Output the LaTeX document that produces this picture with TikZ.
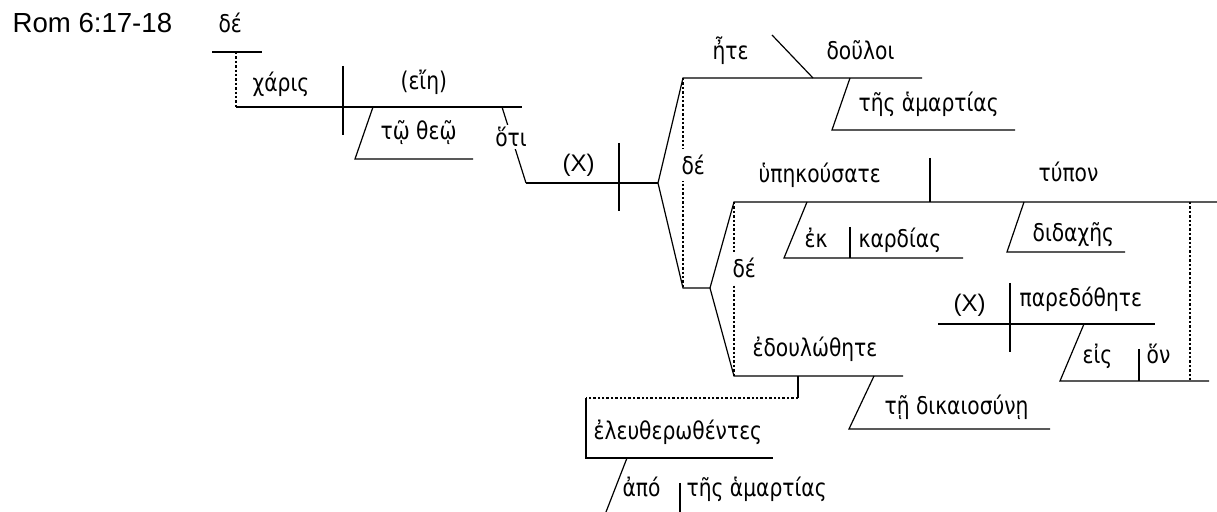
\documentclass[tikz,border=0pt]{standalone}
\usepackage{fontspec}
\setmainfont{Liberation Sans}
\newfontfamily\grk[FakeStretch=0.83]{DejaVu Sans}
\usetikzlibrary{calc}

\begin{document}
\begin{tikzpicture}[x=0.5pt, y=-0.5pt, line width=0.6pt,
    wd/.style={inner sep=0, anchor=base west, font=\grk\fontsize{12.2}{14}\selectfont},
    lat/.style={inner sep=0, anchor=base west, font=\fontsize{12}{14}\selectfont},
    conj/.style={wd, fill=white, inner xsep=1pt, inner ysep=3pt},
    dots/.style={line width=0.9pt, dash pattern=on 1.2pt off 1pt}]
        \useasboundingbox (0,0) rectangle (1217,512);

        % title
        \node[lat, font=\fontsize{13.8}{16}\selectfont] (ref) at (12,33) {Rom 6:17-18};

        % de on its shelf, hanging over the main clause
        \node[wd] (w_de_top) at (218,33) {δέ};
        \coordinate (de_shelf) at (212,52);
        \coordinate (de_hook) at (236,52);
        \draw (de_shelf) -- ++(50,0);

        % main clause: charis (eie)
        \coordinate (main_l) at (236,107);
        \draw[dots] (de_hook) -- (main_l);
        \draw (main_l) -- ++(286,0) coordinate (main_r);
        \draw (343,66) -- (343,135);
        \node[wd] (w_charis) at (252,92) {χάρις};
        \node[wd] (w_eie) at (400,90) {(εἴη)};

        % to theo
        \draw (373,107) -- (355,159) -- ++(118,0);
        \node[wd] (w_theo) at (380,140) {τῷ θεῷ};

        % hoti clause
        \coordinate (hoti_top) at (502,107);
        \coordinate (sub_l) at (526,183);
        \coordinate (fork_a) at (658,183);
        \draw (hoti_top) -- (sub_l);
        \node[wd, fill=white, anchor=center, inner sep=1pt] (w_hoti) at (511,137) {ὅτι};
        \draw (sub_l) -- (fork_a);
        \draw (619,143) -- (619,211);
        \node[lat] (w_x1) at (562,172) {(X)};

        % fork a: ete douloi / second fork
        \coordinate (ete_l) at (683,78);
        \coordinate (fork_b) at (710,288);
        \draw (fork_a) -- (ete_l) -- ++(239,0);
        \draw (fork_a) -- (683,288) -- (fork_b);
        \draw[dots] (ete_l) -- (683,288);
        \node[conj] (w_de_a) at (679,175) {δέ};
        \node[wd] (w_ete) at (712,60) {ἦτε};
        \draw (772,35) -- (813,78);
        \node[wd] (w_douloi) at (826,60) {δοῦλοι};
        \draw (850,78) -- (832,130) -- ++(183,0);
        \node[wd] (w_hamart1) at (858,112) {τῆς ἁμαρτίας};

        % fork b: hypekousate / edoulothete
        \coordinate (hyp_l) at (734,202);
        \coordinate (edoul_l) at (734,376);
        \draw (fork_b) -- (hyp_l) -- (1217,202);
        \draw (fork_b) -- (edoul_l) -- ++(169,0);
        \draw[dots] (hyp_l) -- (edoul_l);
        \node[conj] (w_de_b) at (730,278) {δέ};

        % hypekousate typon
        \node[wd] (w_hyp) at (758,183) {ὑπηκούσατε};
        \draw (930,158) -- (930,202);
        \node[wd] (w_typon) at (1038,182) {τύπον};
        \draw (807,202) -- (784,258) -- ++(179,0);
        \draw (850,227) -- (850,258);
        \node[wd] (w_ek) at (804,248) {ἐκ};
        \node[wd] (w_kardias) at (858,248) {καρδίας};
        \draw (1024,202) -- (1007,252) -- ++(118,0);
        \node[wd] (w_didaches) at (1032,242) {διδαχῆς};

        % relative clause (X) paredothete eis hon
        \draw[dots] (1190,202) -- (1190,381);
        \draw (938,324) -- (1155,324);
        \draw (1010,283) -- (1010,352);
        \node[lat] (w_x2) at (953,312) {(X)};
        \node[wd] (w_pared) at (1019,307) {παρεδόθητε};
        \draw (1084,324) -- (1060,381) -- (1209,381);
        \draw (1139,349) -- (1139,381);
        \node[wd] (w_eis) at (1082,364) {εἰς};
        \node[wd] (w_hon) at (1146,364) {ὅν};

        % edoulothete te dikaiosyne
        \node[wd] (w_edoul) at (752,357) {ἐδουλώθητε};
        \draw (874,376) -- (849,429) -- ++(201,0);
        \node[wd] (w_dik) at (884,415) {τῇ δικαιοσύνῃ};

        % participle eleutherothentes apo tes hamartias
        \coordinate (part_hook) at (798,376);
        \coordinate (part_l) at (586,398);
        \draw (part_hook) -- ++(0,22) coordinate (part_r);
        \draw[dots] (part_r) -- (part_l);
        \draw (part_l) -- (586,458) -- ++(187,0);
        \node[wd] (w_eleuth) at (593,440) {ἐλευθερωθέντες};
        \draw (627,458) -- (606,512);
        \draw (680,483) -- (680,512);
        \node[wd] (w_apo) at (622,497) {ἀπό};
        \node[wd] (w_hamart2) at (686,497) {τῆς ἁμαρτίας};
\end{tikzpicture}
\end{document}
